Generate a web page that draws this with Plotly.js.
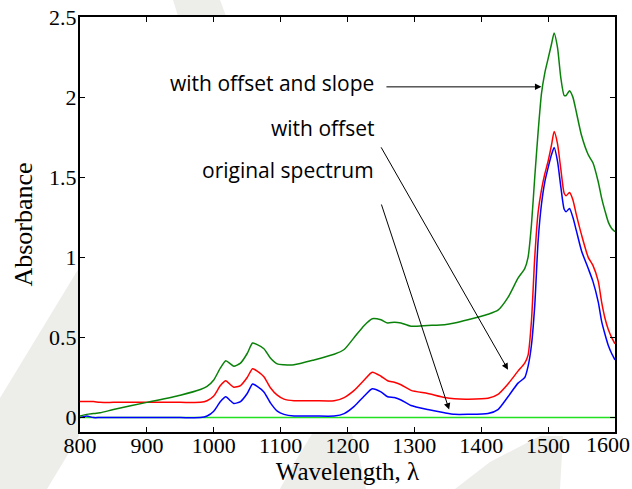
<!DOCTYPE html>
<html>
<head>
<meta charset="utf-8">
<script src="https://cdn.plot.ly/plotly-3.0.1.min.js"></script>
<style>html,body{margin:0;padding:0;background:#fff;}#chart{width:632px;height:489px;}</style>
</head>
<body>
<div id="chart"></div>
<script>
// Wavelength grid (nm)
const wavelength = [800,810,820,830,850,900,950,980,990,1000,1010,1018,1025,1030,1040,1050,1058,1065,1075,1085,1095,1105,1120,1150,1180,1195,1210,1225,1237,1250,1260,1270,1280,1295,1320,1345,1360,1380,1410,1425,1440,1455,1465,1470,1475,1480,1485,1490,1495,1500,1505,1509,1514,1519,1524,1527,1532,1537,1542,1550,1560,1567,1575,1580,1585,1590,1595,1600];

// Original spectrum (blue)
const originalSpectrum = [0.0,0.01,0.0,0.0,0.0,0.0,0.0,0.0,0.01,0.04,0.1,0.13,0.105,0.088,0.1,0.15,0.21,0.195,0.16,0.09,0.04,0.02,0.01,0.01,0.01,0.025,0.07,0.135,0.18,0.16,0.13,0.125,0.11,0.075,0.05,0.03,0.02,0.02,0.025,0.05,0.13,0.215,0.25,0.32,0.45,0.7,1.1,1.33,1.47,1.56,1.64,1.685,1.6,1.44,1.3,1.285,1.305,1.25,1.17,1.04,0.93,0.85,0.72,0.6,0.52,0.45,0.4,0.36];

// With offset (red)
const withOffset = [0.10,0.10,0.10,0.095,0.095,0.095,0.095,0.095,0.105,0.135,0.2,0.23,0.205,0.19,0.2,0.25,0.305,0.29,0.255,0.185,0.14,0.115,0.105,0.105,0.105,0.125,0.17,0.235,0.283,0.258,0.23,0.22,0.205,0.17,0.15,0.125,0.117,0.115,0.12,0.145,0.21,0.29,0.34,0.39,0.6,1.0,1.28,1.42,1.52,1.6,1.7,1.785,1.71,1.55,1.4,1.385,1.405,1.36,1.27,1.14,1.0,0.95,0.85,0.72,0.62,0.55,0.5,0.46];

// With offset and slope (dark green)
const withOffsetSlope = [0.01,0.02,0.025,0.03,0.05,0.095,0.14,0.175,0.195,0.235,0.31,0.355,0.335,0.32,0.34,0.4,0.465,0.455,0.43,0.37,0.335,0.33,0.33,0.36,0.395,0.425,0.5,0.575,0.617,0.61,0.59,0.595,0.59,0.57,0.575,0.58,0.59,0.61,0.645,0.67,0.75,0.87,0.93,1.0,1.2,1.5,1.78,2.02,2.15,2.24,2.33,2.40,2.31,2.12,2.01,2.01,2.04,2.0,1.91,1.76,1.64,1.59,1.47,1.37,1.29,1.22,1.18,1.16];

// Zero baseline (bright green)
const baselineX = [800, 1600];
const baselineY = [0, 0];

// Ticks
const xTicks = [800,900,1000,1100,1200,1300,1400,1500,1600];
const xTickText = ["800","900","1000","1100","1200","1300","1400","1500",""];
const xLastTick = "1600";
const yTicks = [0,0.5,1,1.5,2,2.5];
const yTickText = ["0","0.5","1","1.5","2","2.5"];

// Annotation labels
const labels = ["with offset and slope","with offset","original spectrum"];
const labelAnchor = [[1243,2.09],[1243,1.81],[1243,1.546]];
const arrowTail = [[1256,2.064],[1249,1.696],[1250,1.339]];
const arrowHead = [[1490,2.064],[1440,0.299],[1352,0.05]];

const serif = 'Liberation Serif, Times New Roman, serif';
const lw = 1.5;
const traces = [
  {x: baselineX, y: baselineY, mode:'lines', line:{color:'#22e022', width:lw}, hoverinfo:'skip'},
  {x: wavelength, y: originalSpectrum, mode:'lines', line:{color:'#0000ff', width:lw, shape:'spline', smoothing:0.6}},
  {x: wavelength, y: withOffset, mode:'lines', line:{color:'#ff0000', width:lw, shape:'spline', smoothing:0.6}},
  {x: wavelength, y: withOffsetSlope, mode:'lines', line:{color:'#0a820a', width:lw, shape:'spline', smoothing:0.6}}
];

const annotations = [];
labels.forEach((t,i)=>{
  annotations.push({x:labelAnchor[i][0], y:labelAnchor[i][1], xref:'x', yref:'y', text:t, showarrow:false,
    xanchor:'right', yanchor:'middle', font:{family:'Open Sans', size:21, color:'#000'}});
  annotations.push({x:arrowHead[i][0], y:arrowHead[i][1], ax:arrowTail[i][0], ay:arrowTail[i][1],
    xref:'x', yref:'y', axref:'x', ayref:'y', text:'', showarrow:true, arrowhead:2, arrowsize:1.3, arrowwidth:1, arrowcolor:'#000'});
});
// last x tick label, kept inside the picture's right edge
annotations.push({x:xTicks[xTicks.length-1], y:-0.0313, xref:'x', yref:'paper', text:xLastTick, showarrow:false,
  xanchor:'right', yanchor:'middle', xshift:17, font:{family:serif, size:22, color:'#000'}});

// Faint watermark behind the figure (outside the plot area), given in pixel coordinates
const ML = 80, MT = 17, PW = 535, PH = 415;
function px2paper(pts){
  return 'M' + pts.map(p => ((p[0]-ML)/PW).toFixed(4) + ',' + ((MT+PH-p[1])/PH).toFixed(4)).join(' L') + ' Z';
}
const wmFill = '#ededea';
const watermark = [
  [[79,268],[0,398],[0,489],[47,489],[79,436]],
  [[173,0],[220,0],[226,16],[178,16]],
  [[312,434],[352,434],[360,460],[366,489],[280,489],[296,460]],
  [[540,436],[563,436],[560,489],[455,489],[490,462]]
].map(p => ({type:'path', xref:'paper', yref:'paper', path:px2paper(p), fillcolor:wmFill, line:{width:0}, layer:'below'}));

const layout = {
  width:632, height:489,
  margin:{l:80, r:17, t:17, b:57},
  paper_bgcolor:'#fff', plot_bgcolor:'#fff',
  showlegend:false,
  xaxis:{range:[800,1600], tickvals:xTicks, ticktext:xTickText, ticks:'inside', ticklen:5, tickwidth:1, tickcolor:'#000',
    showline:true, linecolor:'#000', linewidth:2, mirror:'ticks', showgrid:false, zeroline:false,
    tickfont:{family:serif, size:22, color:'#000'}, ticklabelstandoff:-7,
    title:{text:'Wavelength, λ', font:{family:serif, size:25, color:'#000'}, standoff:2}},
  yaxis:{range:[-0.09,2.5], tickvals:yTicks, ticktext:yTickText, ticks:'inside', ticklen:5, tickwidth:1, tickcolor:'#000',
    showline:true, linecolor:'#000', linewidth:2, mirror:'ticks', showgrid:false, zeroline:false,
    tickfont:{family:serif, size:22, color:'#000'}, ticklabelstandoff:-3,
    title:{text:'Absorbance', font:{family:serif, size:26, color:'#000'}, standoff:9}},
  annotations: annotations,
  shapes: watermark
};

Plotly.newPlot('chart', traces, layout, {staticPlot:true, displayModeBar:false});
</script>
</body>
</html>
